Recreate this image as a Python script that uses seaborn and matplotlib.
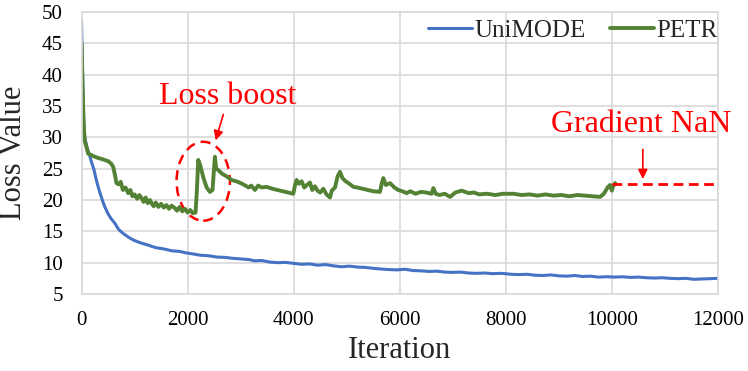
import pandas as pd
import matplotlib
matplotlib.use("Agg")
import matplotlib.pyplot as plt
from matplotlib.patches import Ellipse
import seaborn as sns

# UniMODE loss curve
uni_iter = [0, 20, 40, 60, 100, 150, 190, 230, 270, 314, 360, 400, 440, 500, 560, 628,
            700, 780, 880, 980, 1100, 1257, 1400, 1550, 1700, 1850, 1950, 2100, 2232, 2400,
            2550, 2700, 2850, 3000, 3150, 3270, 3400, 3550, 3700, 3850, 3993, 4150, 4300,
            4450, 4600, 4750, 4900, 5050, 5200, 5350, 5500, 5628, 5800, 5943, 6100, 6250,
            6400, 6550, 6700, 6850, 7000, 7150, 7300, 7450, 7600, 7750, 7925, 8100, 8250,
            8400, 8550, 8700, 8850, 9000, 9150, 9300, 9450, 9600, 9750, 9906, 10050, 10200,
            10350, 10500, 10650, 10800, 10950, 11100, 11250, 11400, 11550, 11700, 11855, 12000]
uni_loss = [48.5, 40.0, 33.0, 30.0, 28.5, 27.2, 26.0, 25.0, 23.5, 22.1, 20.8, 19.8, 18.9, 17.8,
            17.0, 16.3, 15.3, 14.7, 14.1, 13.6, 13.2, 12.8, 12.4, 12.2, 11.9, 11.8, 11.6, 11.4,
            11.2, 11.1, 10.9, 10.85, 10.7, 10.6, 10.5, 10.3, 10.35, 10.1, 10.0, 10.05, 9.9, 9.75,
            9.8, 9.6, 9.7, 9.5, 9.35, 9.45, 9.3, 9.25, 9.1, 9.0, 8.9, 8.85, 8.95, 8.75, 8.7, 8.6,
            8.65, 8.5, 8.45, 8.5, 8.35, 8.3, 8.35, 8.25, 8.3, 8.15, 8.1, 8.15, 8.0, 7.95, 8.05,
            7.9, 7.85, 7.95, 7.8, 7.85, 7.7, 7.76, 7.7, 7.75, 7.65, 7.7, 7.6, 7.55, 7.6, 7.5,
            7.45, 7.5, 7.35, 7.4, 7.45, 7.5]

# PETR loss curve, stops at the gradient NaN
petr_iter = [0, 20, 40, 60, 90, 126, 180, 251, 320, 400, 503, 560, 597, 630, 660, 700, 740,
             780, 830, 880, 920, 960, 1000, 1050, 1090, 1132, 1170, 1210, 1250, 1290, 1321,
             1360, 1400, 1450, 1500, 1550, 1600, 1650, 1700, 1761, 1800, 1850, 1900, 1950,
             2000, 2050, 2100, 2150, 2175, 2201, 2240, 2300, 2360, 2421, 2470, 2500, 2515,
             2540, 2578, 2650, 2750, 2830, 2950, 3050, 3150, 3200, 3270, 3330, 3400, 3490,
             3600, 3700, 3800, 3900, 3993, 4030, 4056, 4100, 4150, 4200, 4250, 4308, 4350,
             4400, 4450, 4500, 4560, 4620, 4685, 4720, 4780, 4830, 4874, 4920, 4980, 5050,
             5126, 5200, 5300, 5400, 5500, 5628, 5660, 5691, 5740, 5817, 5900, 5974, 6050,
             6132, 6200, 6300, 6400, 6500, 6600, 6635, 6680, 6750, 6850, 6950, 7050, 7170,
             7300, 7400, 7500, 7650, 7800, 7950, 8145, 8300, 8450, 8600, 8750, 8900, 9050,
             9200, 9350, 9500, 9650, 9780, 9850, 9920, 9968, 10000, 10030, 10063]
petr_loss = [45.0, 38.0, 32.0, 29.5, 28.5, 27.4, 27.2, 26.9, 26.7, 26.5, 26.2, 25.8, 25.3,
             24.0, 22.7, 22.5, 22.9, 21.6, 22.0, 21.1, 21.6, 20.6, 20.9, 20.2, 20.8, 20.3,
             19.7, 20.4, 19.5, 20.0, 19.5, 19.0, 19.6, 18.9, 19.4, 18.8, 19.2, 18.6, 19.1,
             18.7, 18.3, 18.9, 18.2, 18.6, 18.0, 18.4, 17.9, 18.0, 21.5, 26.4, 25.5, 23.5,
             22.0, 21.3, 21.6, 25.0, 26.9, 25.0, 24.8, 24.2, 23.7, 23.2, 22.9, 22.5, 22.0,
             22.3, 21.6, 22.3, 22.0, 22.1, 21.8, 21.6, 21.4, 21.2, 21.0, 22.5, 23.2, 22.6,
             23.0, 22.0, 22.4, 22.8, 21.6, 22.2, 21.5, 21.2, 21.8, 20.9, 20.4, 21.5, 22.0,
             23.8, 24.5, 23.5, 23.0, 22.6, 22.1, 22.0, 21.8, 21.6, 21.4, 21.3, 22.6, 23.5,
             22.4, 22.7, 22.0, 21.6, 21.4, 21.1, 21.4, 21.0, 21.3, 21.2, 21.0, 21.9, 21.0,
             20.8, 21.0, 20.5, 21.2, 21.5, 21.1, 21.2, 20.9, 21.0, 20.8, 21.0, 21.0, 20.8,
             20.9, 20.7, 20.9, 20.7, 20.8, 20.6, 20.8, 20.7, 20.6, 20.5, 21.0, 22.0, 22.4,
             21.5, 22.3, 22.7]

nan_iter = [10000, 12000]
nan_loss = [22.5, 22.5]

blue = "#4472C4"
green = "#548235"

sns.set_theme(style="whitegrid")
plt.rcParams["font.family"] = ["Liberation Serif", "DejaVu Serif"]
plt.rcParams["axes.edgecolor"] = "#d9d9d9"
plt.rcParams["grid.color"] = "#d9d9d9"

fig = plt.figure(figsize=(7.48, 3.71), dpi=100)
ax = fig.add_axes([0.109, 0.2075, 0.8507, 0.760])

sns.lineplot(x=uni_iter, y=uni_loss, ax=ax, color=blue, linewidth=2.2, label="UniMODE")
sns.lineplot(x=petr_iter, y=petr_loss, ax=ax, color=green, linewidth=2.8, label="PETR")
ax.plot(nan_iter, nan_loss, color="red", linewidth=2.0, linestyle=(0, (3.5, 2)))

ax.set_xlim(0, 12000)
ax.set_ylim(5, 50)
ax.set_xticks(range(0, 12001, 2000))
ax.set_yticks(range(5, 51, 5))
ax.grid(True, linewidth=1.2)
for s in ax.spines.values():
    s.set_linewidth(1.2)
ax.tick_params(axis="both", length=0, labelsize=15, colors="black")
ax.tick_params(axis="y", pad=13.5)
ax.tick_params(axis="x", pad=12)

ax.set_xlabel("Iteration", fontsize=22)
ax.set_ylabel("Loss Value", fontsize=22)
ax.xaxis.set_label_coords(0.5, -0.15)
ax.yaxis.set_label_coords(-0.084, 0.5)

ax.legend(loc="upper right", bbox_to_anchor=(1.0, 0.975), frameon=False, ncol=2,
          fontsize=18, handlelength=1.75, handletextpad=0.1, columnspacing=1.0,
          borderpad=0, borderaxespad=0)

# loss boost annotation
ax.add_patch(Ellipse((2295, 23.0), 1006, 12.6, fill=False, edgecolor="red",
                     linewidth=1.8, linestyle=(0, (4, 2.5))))
ax.annotate("", xy=(2515, 29.1), xytext=(2689, 34.1),
            arrowprops=dict(arrowstyle="-|>", color="red", lw=1.2, mutation_scale=14))
ax.text(2760, 36.6, "Loss boost", color="red", fontsize=23, ha="center", va="center")

# gradient nan annotation
ax.annotate("", xy=(10585, 22.9), xytext=(10585, 28.5),
            arrowprops=dict(arrowstyle="-|>", color="red", lw=1.2, mutation_scale=14))
ax.text(10553, 32.1, "Gradient NaN", color="red", fontsize=23, ha="center", va="center",
        clip_on=False)

plt.savefig("out.png", dpi=100)
